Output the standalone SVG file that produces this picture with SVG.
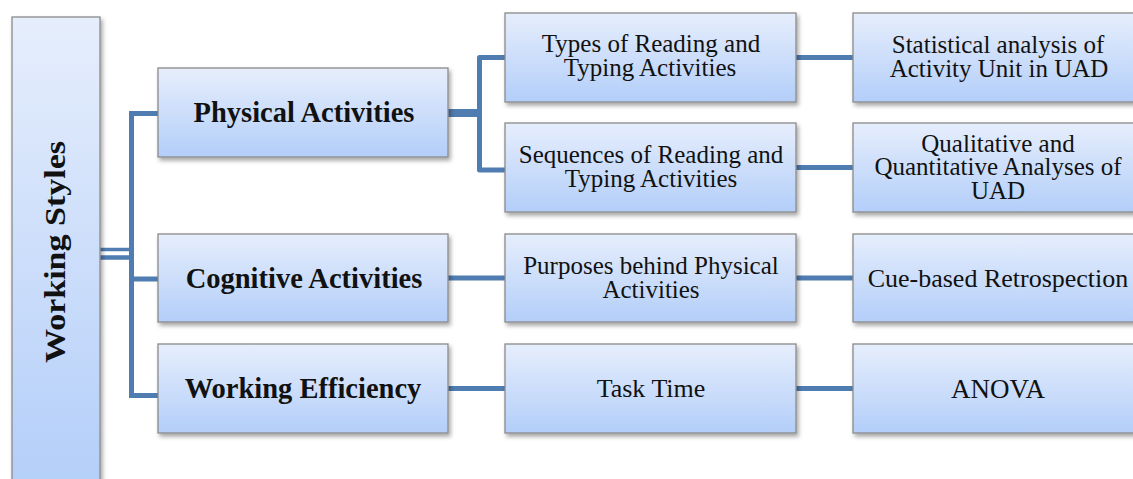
<svg xmlns="http://www.w3.org/2000/svg" width="1133" height="479" viewBox="0 0 1133 479">
<defs>
<linearGradient id="g" x1="0" y1="0" x2="0" y2="1">
<stop offset="0" stop-color="#e6eefc"/>
<stop offset="1" stop-color="#b3cef9"/>
</linearGradient>
<filter id="sh" x="-10%" y="-10%" width="130%" height="140%">
<feDropShadow dx="2" dy="3" stdDeviation="2" flood-color="#000" flood-opacity="0.35"/>
</filter>
</defs>
<style>
.box{fill:url(#g);stroke:#8a8a8a;stroke-width:1.3;filter:url(#sh)}
.t{font-family:"Liberation Serif","Times New Roman",serif;font-size:26px;fill:#111;text-anchor:middle}
.m{font-size:25px}
.b{font-family:"Liberation Serif","Times New Roman",serif;font-size:28.5px;font-weight:bold;fill:#111;text-anchor:middle}
.c{fill:none;stroke:#4f7db2;stroke-width:5}
</style>
<g id="connectors">
<line class="c" x1="100" y1="249.5" x2="131.5" y2="249.5" style="stroke-width:3.5"/>
<line class="c" x1="100" y1="257.5" x2="131.5" y2="257.5" style="stroke-width:4.5"/>
<path class="c" d="M158,113.5 H131.5 V395.5 H158"/>
<path class="c" d="M131.5,279 H158"/>
<path class="c" d="M448,113 H479" style="stroke-width:8"/>
<path class="c" d="M505,57.5 H479.5 V170 H505" style="stroke-linejoin:round"/>
<path class="c" d="M796,57.5 H853"/>
<path class="c" d="M796,167.5 H853"/>
<path class="c" d="M448,278 H505"/>
<path class="c" d="M796,278 H853"/>
<path class="c" d="M448,388.5 H505"/>
<path class="c" d="M796,388.5 H853"/>
</g>
<g id="working-styles">
<rect class="box" x="12" y="17" width="88" height="475"/>
<text class="b" transform="translate(65,252) rotate(-90)" style="font-size:29px" textLength="222" lengthAdjust="spacingAndGlyphs">Working Styles</text>
</g>
<g id="physical">
<rect class="box" x="158" y="68" width="290" height="89"/>
<text class="b" x="304" y="122">Physical Activities</text>
</g>
<g id="cognitive">
<rect class="box" x="158" y="234" width="290" height="88"/>
<text class="b" x="304" y="288">Cognitive Activities</text>
</g>
<g id="efficiency">
<rect class="box" x="158" y="344" width="290" height="89"/>
<text class="b" x="303" y="398">Working Efficiency</text>
</g>
<g id="types">
<rect class="box" x="505" y="13" width="291" height="89"/>
<text class="t m" x="651" y="52">Types of Reading and</text>
<text class="t m" x="650" y="76">Typing Activities</text>
</g>
<g id="sequences">
<rect class="box" x="505" y="123" width="291" height="89"/>
<text class="t m" x="651" y="163">Sequences of Reading and</text>
<text class="t m" x="651" y="187">Typing Activities</text>
</g>
<g id="purposes">
<rect class="box" x="505" y="234" width="291" height="88"/>
<text class="t m" x="651" y="274">Purposes behind Physical</text>
<text class="t m" x="651" y="298">Activities</text>
</g>
<g id="tasktime">
<rect class="box" x="505" y="344" width="291" height="89"/>
<text class="t" x="651" y="397">Task Time</text>
</g>
<g id="statistical">
<rect class="box" x="853" y="13" width="291" height="89"/>
<text class="t m" x="998" y="53">Statistical analysis of</text>
<text class="t m" x="999" y="77">Activity Unit in UAD</text>
</g>
<g id="qualitative">
<rect class="box" x="853" y="123" width="291" height="89"/>
<text class="t m" x="998" y="152">Qualitative and</text>
<text class="t m" x="998" y="175">Quantitative Analyses of</text>
<text class="t m" x="998" y="199">UAD</text>
</g>
<g id="cue">
<rect class="box" x="853" y="234" width="291" height="88"/>
<text class="t" x="998" y="287">Cue-based Retrospection</text>
</g>
<g id="anova">
<rect class="box" x="853" y="344" width="291" height="89"/>
<text class="t" x="998" y="398" style="font-size:27px">ANOVA</text>
</g>
</svg>
